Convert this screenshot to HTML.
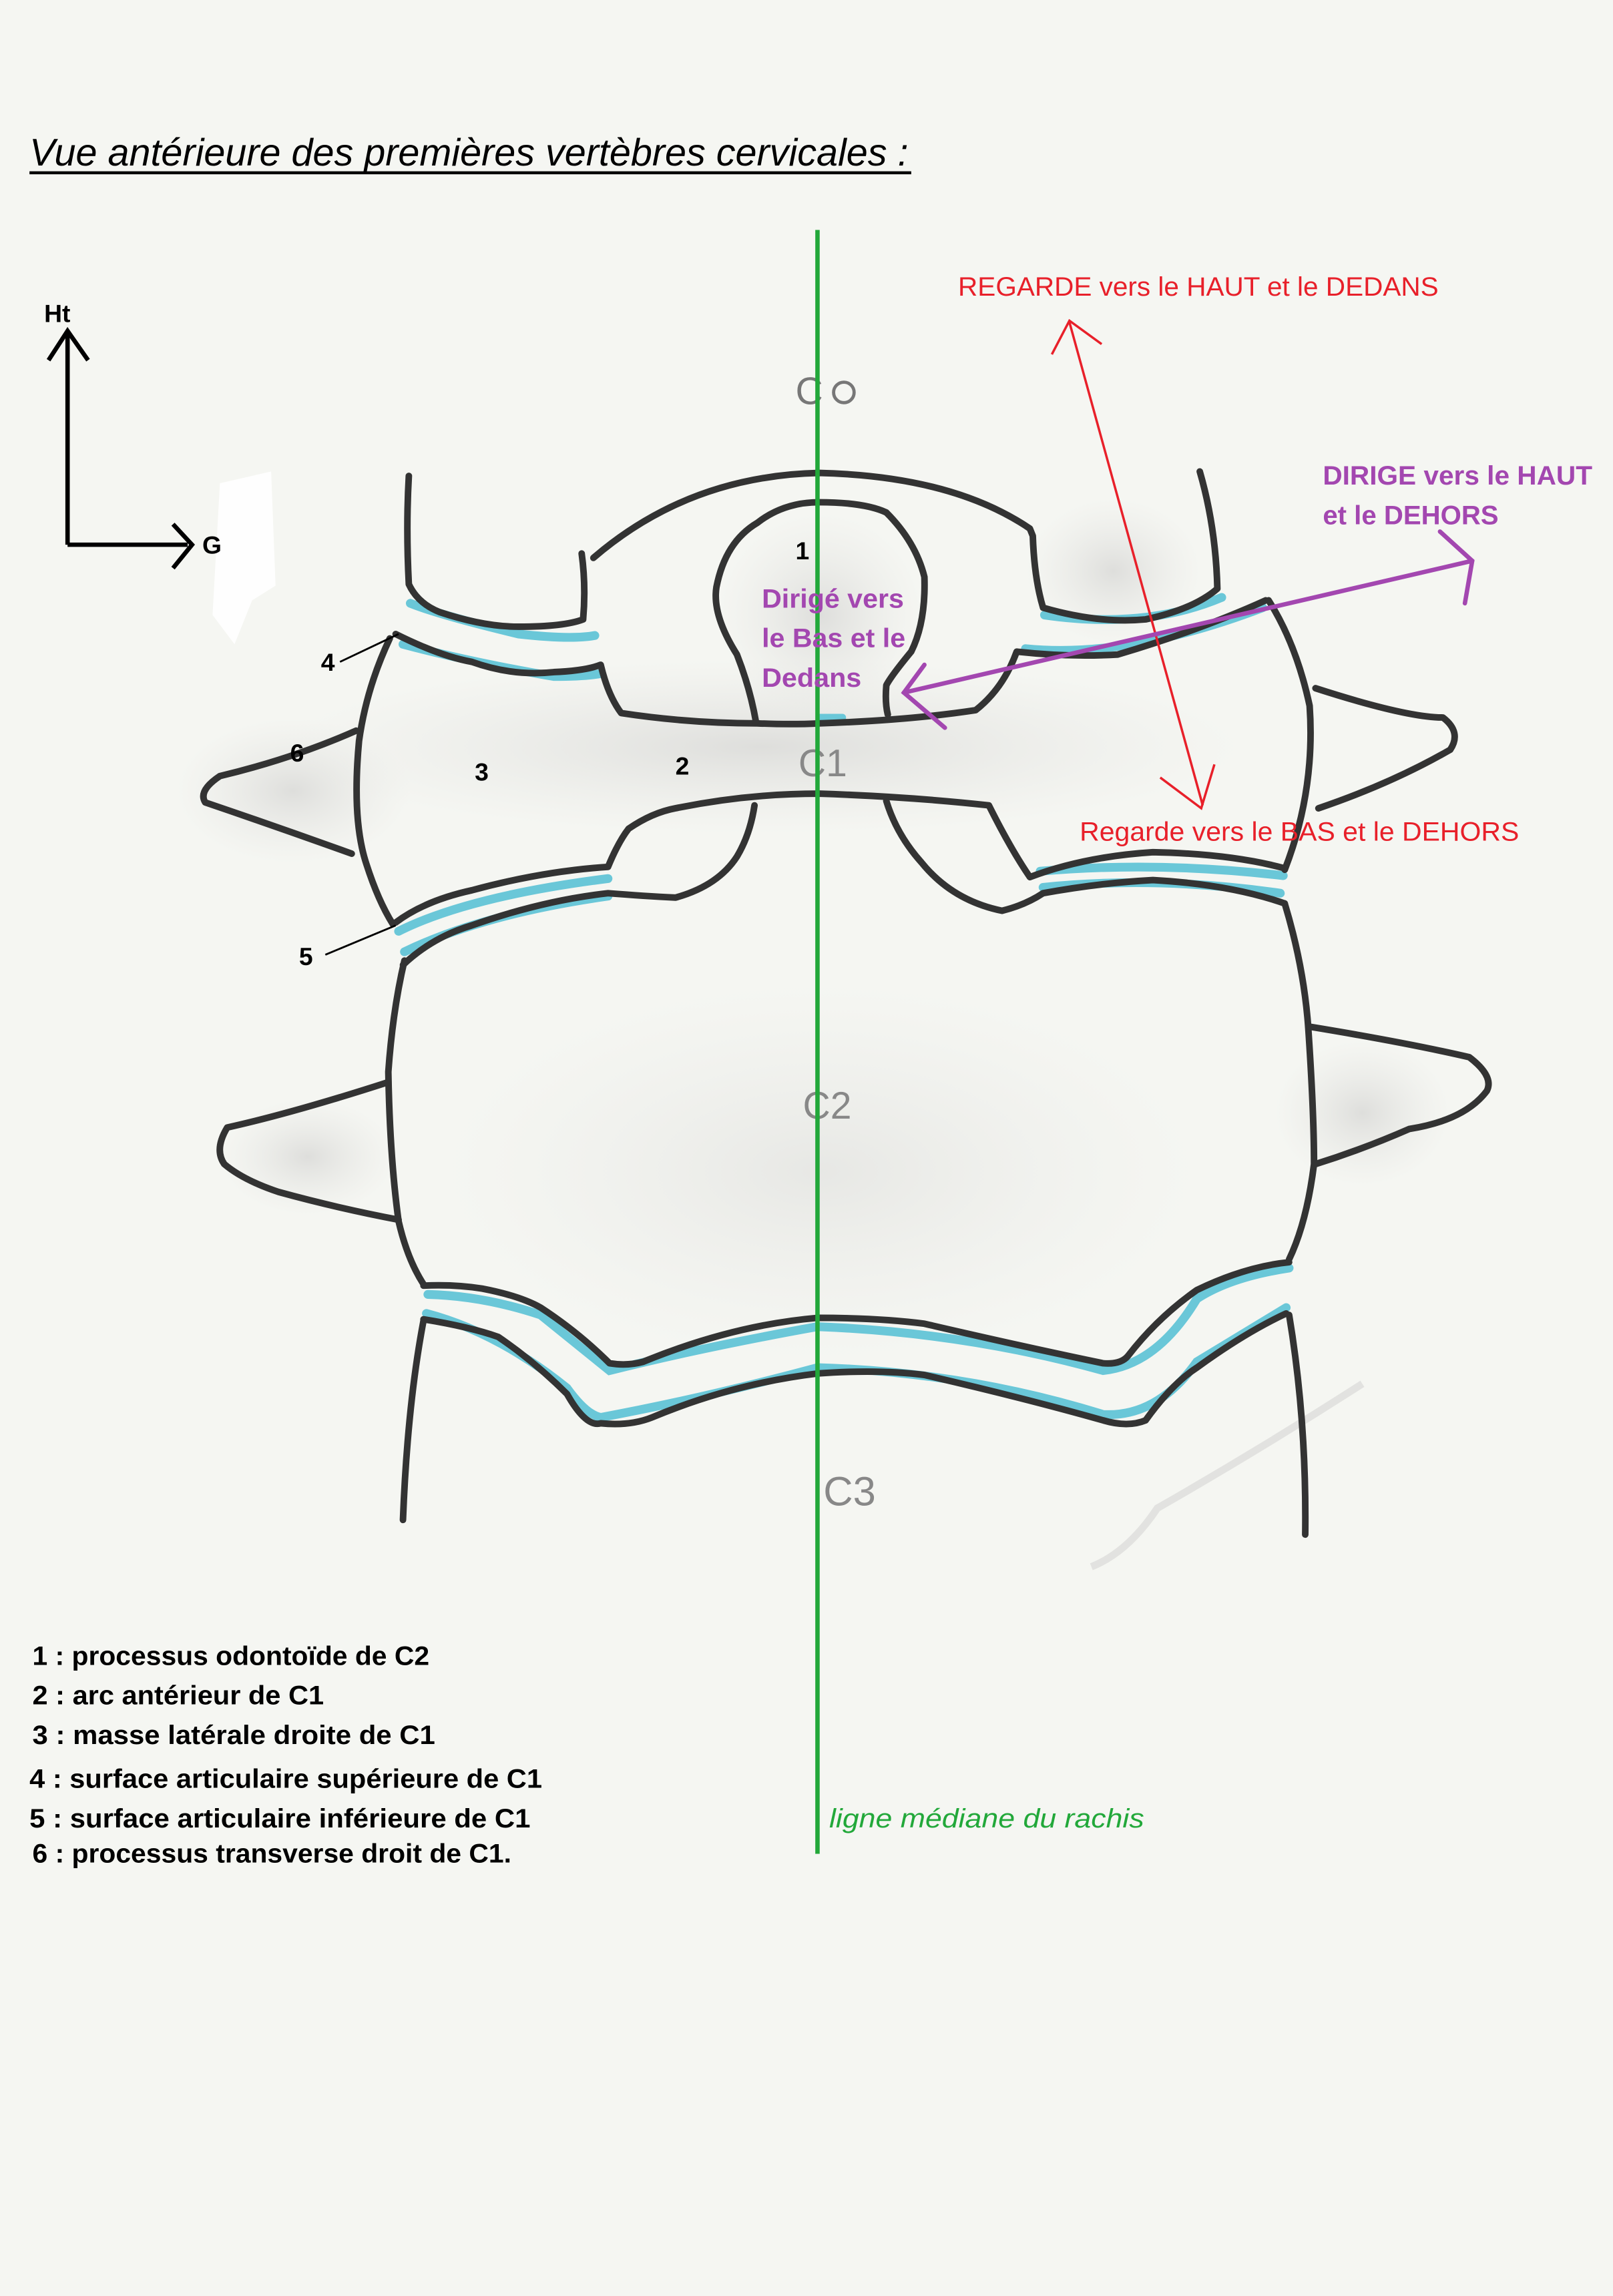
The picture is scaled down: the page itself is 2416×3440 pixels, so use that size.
<!DOCTYPE html>
<html><head><meta charset="utf-8"><style>
html,body{margin:0;padding:0;background:#f5f6f2;}
svg{display:block}
</style></head><body>
<svg width="2416" height="3440" viewBox="0 0 1101 1568" xmlns="http://www.w3.org/2000/svg" font-family="'Liberation Sans', sans-serif">
<defs>
<radialGradient id="sh" cx="50%" cy="50%" r="50%"><stop offset="0" stop-color="#d8d8d6" stop-opacity="0.8"/><stop offset="1" stop-color="#e6e6e3" stop-opacity="0"/></radialGradient>
</defs>
<rect width="1101" height="1568" fill="#f5f6f2"/>
<!-- shading -->
<ellipse cx="520" cy="510" rx="330" ry="60" fill="url(#sh)"/>
<ellipse cx="200" cy="540" rx="80" ry="50" fill="url(#sh)"/>
<ellipse cx="560" cy="420" rx="70" ry="70" fill="url(#sh)"/>
<ellipse cx="760" cy="390" rx="60" ry="50" fill="url(#sh)"/>
<ellipse cx="560" cy="800" rx="260" ry="130" fill="url(#sh)" opacity="0.6"/>
<ellipse cx="210" cy="790" rx="60" ry="40" fill="url(#sh)"/>
<ellipse cx="930" cy="760" rx="60" ry="50" fill="url(#sh)"/>
<path d="M930,945 Q860,990 790,1030 Q770,1060 745,1070" stroke="#d6d6d4" stroke-width="5" fill="none" opacity="0.6"/>
<path d="M150,330 L185,322 L188,400 L172,410 L160,440 L145,420 Z" fill="#ffffff" opacity="0.9"/>

<!-- Title -->
<text x="20" y="113" font-size="26" font-style="italic" fill="#000" textLength="600" lengthAdjust="spacingAndGlyphs">Vue antérieure des premières vertèbres cervicales :</text>
<line x1="20" y1="118" x2="622" y2="118" stroke="#000" stroke-width="2"/>

<!-- axes -->
<g stroke="#000" stroke-width="3" fill="none">
<line x1="46" y1="372" x2="46" y2="228"/>
<polyline points="33,246 46,226 60,246"/>
<line x1="46" y1="372" x2="128" y2="372"/>
<polyline points="118,358 131,372 118,388"/>
</g>
<text x="30" y="220" font-size="17" font-weight="bold">Ht</text>
<text x="138" y="378" font-size="17" font-weight="bold">G</text>

<!-- blue articular lines -->
<g stroke="#5cc3d6" stroke-width="6" fill="none" stroke-linecap="round" opacity="0.9">
<path d="M280,412 Q300,420 354,433 Q390,437 406,434"/>
<path d="M275,440 Q320,452 378,462 Q400,462 410,460"/>
<path d="M713,420 Q782,430 834,408"/>
<path d="M700,443 Q770,450 862,415"/>
<path d="M272,636 Q320,612 415,600"/>
<path d="M276,650 Q330,624 415,612"/>
<path d="M710,595 Q790,588 876,598"/>
<path d="M712,606 Q790,598 874,610"/>
<path d="M292,884 Q330,885 369,898 Q390,915 416,936 Q480,920 558,906 Q660,910 753,936 Q790,932 817,887 Q840,872 880,866"/>
<path d="M291,897 Q340,910 387,948 Q400,966 410,968 Q480,955 558,934 Q660,937 753,966 Q790,968 817,930 Q850,910 878,893"/>
<path d="M560,490 L575,490" stroke-width="5"/>
</g>

<!-- black outlines -->
<g stroke="#333" stroke-width="4.5" fill="none" stroke-linecap="round" stroke-linejoin="round">
<path d="M279,325 Q277,360 279,399 Q285,412 300,418 Q330,428 354,428 Q385,428 398,423 Q400,400 397,378"/>
<path d="M405,381 Q470,325 559,323 Q650,325 703,361 L705,366 Q706,395 712,415 Q750,426 782,423 Q815,416 831,402 Q830,360 819,322"/>
<path d="M270,433 Q300,448 322,452 Q350,462 378,459 Q400,458 410,454 Q415,475 424,487 Q470,494 517,494 Q540,495 559,494 Q620,492 666,485 Q685,470 694,445 Q730,449 763,447 Q820,430 864,410"/>
<path d="M516,493 Q512,470 503,447 Q486,420 489,401 Q495,370 517,357 Q535,343 559,343 Q590,343 605,350 Q625,370 631,394 Q632,425 622,445 Q608,462 605,468 Q604,480 606,488"/>
<path d="M266,436 Q250,470 245,506 Q240,560 250,590 Q258,615 268,631"/>
<path d="M243,499 Q200,518 150,530 Q135,540 140,548 Q190,565 240,583"/>
<path d="M866,410 Q885,440 894,482 Q898,540 877,594"/>
<path d="M898,470 Q960,490 985,490 Q998,500 990,512 Q950,535 900,552"/>
<path d="M270,630 Q290,615 322,608 Q370,595 415,592 Q422,575 429,566 Q445,555 461,552 Q510,542 559,542 Q620,544 675,550 Q690,580 703,599 Q740,585 787,582 Q840,583 877,593"/>
<path d="M275,659 Q295,640 322,632 Q370,615 415,610 Q440,612 461,613 Q490,605 503,585 Q512,570 515,550"/>
<path d="M605,547 Q612,570 629,589 Q650,615 684,622 Q700,618 712,610 Q750,603 787,601 Q840,604 877,617"/>
<path d="M276,656 Q268,690 265,732 Q266,790 272,834 Q278,860 289,877"/>
<path d="M265,739 Q200,760 155,770 Q146,785 153,795 Q166,806 190,814 Q230,825 272,833"/>
<path d="M877,617 Q890,660 893,701 Q897,760 897,795 Q892,835 880,860"/>
<path d="M893,701 Q960,712 1003,722 Q1020,735 1015,745 Q1000,765 962,771 Q930,785 898,795"/>
<path d="M289,878 Q310,877 329,880 Q355,885 369,893 Q395,910 416,931 Q428,933 439,930 Q500,905 558,900 Q600,900 631,904 Q700,920 753,931 Q765,932 770,926 Q790,900 817,881 Q850,865 880,862"/>
<path d="M289,901 Q320,906 340,913 Q365,930 387,952 Q400,975 410,972 Q430,974 445,968 Q500,945 558,938 Q600,935 631,939 Q700,955 753,970 Q770,975 782,970 Q800,945 817,934 Q850,910 878,897"/>
<path d="M289,902 Q278,960 275,1038"/>
<path d="M880,898 Q892,970 891,1048"/>
</g>

<g stroke="#000" stroke-width="1.3">
<line x1="232" y1="452" x2="272" y2="433"/>
<line x1="222" y1="652" x2="270" y2="632"/>
</g>

<g fill="none" stroke="#777" stroke-width="2.2" stroke-linecap="round">
<text x="543" y="276" font-size="26" fill="#777" stroke="none">C</text>
<circle cx="576" cy="268" r="7"/>
</g>
<text x="545" y="530" font-size="26" fill="#888">C1</text>
<text x="548" y="764" font-size="26" fill="#888">C2</text>
<text x="562" y="1028" font-size="28" fill="#888">C3</text>

<line x1="558" y1="157" x2="558" y2="1266" stroke="#22a83a" stroke-width="3"/>

<g font-size="17" font-weight="bold" fill="#000">
<text x="543" y="382">1</text>
<text x="461" y="529">2</text>
<text x="324" y="533">3</text>
<text x="219" y="458">4</text>
<text x="198" y="520">6</text>
<text x="204" y="659">5</text>
</g>

<g stroke="#e8202a" stroke-width="1.6" fill="none">
<line x1="730" y1="220" x2="821" y2="550"/>
<polyline points="718,242 730,219 752,235"/>
<polyline points="792,531 820,552 829,522"/>
</g>
<text x="654" y="202" font-size="18" fill="#e8202a" textLength="328" lengthAdjust="spacingAndGlyphs">REGARDE vers le HAUT et le DEDANS</text>
<text x="737" y="574" font-size="18" fill="#e8202a" textLength="300" lengthAdjust="spacingAndGlyphs">Regarde vers le BAS et le DEHORS</text>

<g stroke="#a347b0" stroke-width="3" fill="none" stroke-linecap="round">
<line x1="617" y1="473" x2="1005" y2="383"/>
<polyline points="631,454 617,473 645,497"/>
<polyline points="983,363 1005,383 1000,412"/>
</g>
<g font-size="18" font-weight="bold" fill="#a347b0">
<text x="903" y="331" textLength="184" lengthAdjust="spacingAndGlyphs">DIRIGE vers le HAUT</text>
<text x="903" y="358" textLength="120" lengthAdjust="spacingAndGlyphs">et le DEHORS</text>
<text x="520" y="415" textLength="97" lengthAdjust="spacingAndGlyphs">Dirigé vers</text>
<text x="520" y="442" textLength="98" lengthAdjust="spacingAndGlyphs">le Bas et le</text>
<text x="520" y="469" textLength="68" lengthAdjust="spacingAndGlyphs">Dedans</text>
</g>

<g font-size="18" font-weight="bold" fill="#000">
<text x="22" y="1137" textLength="271" lengthAdjust="spacingAndGlyphs">1 : processus odontoïde de C2</text>
<text x="22" y="1164" textLength="199" lengthAdjust="spacingAndGlyphs">2 : arc antérieur de C1</text>
<text x="22" y="1191" textLength="275" lengthAdjust="spacingAndGlyphs">3 : masse latérale droite de C1</text>
<text x="20" y="1221" textLength="350" lengthAdjust="spacingAndGlyphs">4 : surface articulaire supérieure de C1</text>
<text x="20" y="1248" textLength="342" lengthAdjust="spacingAndGlyphs">5 : surface articulaire inférieure de C1</text>
<text x="22" y="1272" textLength="327" lengthAdjust="spacingAndGlyphs">6 : processus transverse droit de C1.</text>
</g>
<text x="566" y="1248" font-size="18" font-style="italic" fill="#22a83a" textLength="215" lengthAdjust="spacingAndGlyphs">ligne médiane du rachis</text>
</svg>
</body></html>
